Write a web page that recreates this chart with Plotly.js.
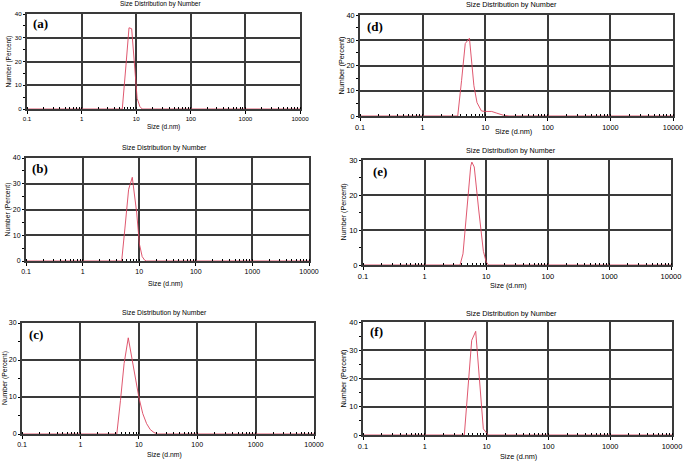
<!DOCTYPE html>
<html>
<head>
<meta charset="utf-8">
<script src="https://cdn.plot.ly/plotly-3.0.1.min.js"></script>
<style>html,body{margin:0;padding:0;background:#fff;}#chart{width:685px;height:463px;}</style>
</head>
<body>
<div id="chart"></div>
<script>
// ---- Data ----
const xTickVals = [0.1, 1, 10, 100, 1000, 10000];
const xTickText = ['0.1', '1', '10', '100', '1000', '10000'];
const panelLabels = ['(a)', '(b)', '(c)', '(d)', '(e)', '(f)'];
const chartTitle = 'Size Distribution by Number';
const xTitle = 'Size (d.nm)';
const yTitle = 'Number (Percent)';

const sizeA = [0.1, 5.56, 6.5, 7.38, 8.26, 10.4, 11.7, 12.9, 10000];
const numA  = [0,   0,    18.5, 34.2, 33.8, 4.5, 1.0,  0,    0];

const sizeB = [0.1, 4.9, 5.6, 6.5, 7.55, 9.0, 10.1, 11.3, 12.5, 13.5, 10000];
const numB  = [0,   0,   12.8, 27.8, 32.5, 19, 6.5, 1.7, 0.3, 0, 0];

const sizeC = [0.1, 4.2, 4.85, 5.6, 6.6, 7.53, 8.72, 10, 11.7, 13.6, 15.7, 18.2, 21, 10000];
const numC  = [0,   0,   9,    19,  26,  21,   14.7, 10, 5.5,  2.8,  1.2,  0.4,  0,  0];

const sizeD = [0.1, 3.64, 4.19, 4.8, 5.6, 6.6, 7.4, 8.7, 10, 12.7, 15, 19.5, 24, 10000];
const numD  = [0,   0,    14,   28.7, 30.8, 12, 5.3, 2.0, 1.8, 1.8, 1.2, 0.3, 0, 0];

const sizeE = [0.1, 3.76, 4.2, 4.85, 5.6, 5.85, 6.4, 7.53, 9.0, 10, 10.9, 10000];
const numE  = [0,   0,    3.2, 16,   28.2, 29.4, 28,  16,   3.9, 0.9, 0, 0];

const sizeF = [0.1, 4.36, 5.74, 6.66, 8.85, 10, 10.6, 10000];
const numF  = [0,   0,    33.5, 36.7, 2.2,  0.7, 0,   0];

const yMaxes = [40, 40, 30, 40, 30, 40];

// ---- Layout (pixel boxes of each panel) ----
const W = 685, H = 463;
const panels = [
  {x: sizeA, y: numA, box: [27, 14, 300, 109],  fs: 6.2, tfs: 6.5, title: [160, 4],  xt: [163, 127], yt: 8,   lab: [40, 24]},
  {x: sizeB, y: numB, box: [26, 158, 309, 261], fs: 7,   tfs: 6.8, title: [164, 148], xt: [165, 284], yt: 8,   lab: [40, 168]},
  {x: sizeC, y: numC, box: [22, 323, 314, 434], fs: 7,   tfs: 6.8, title: [164, 313], xt: [164, 455], yt: 4.5, lab: [36, 334]},
  {x: sizeD, y: numD, box: [360, 15, 673, 116], fs: 7.3, tfs: 7.3, title: [511, 4],  xt: [513, 131], yt: 341, lab: [375, 26]},
  {x: sizeE, y: numE, box: [363, 160, 671, 265],fs: 7.5, tfs: 7.2, title: [511, 150], xt: [508, 285], yt: 343, lab: [380, 171]},
  {x: sizeF, y: numF, box: [363, 322, 672, 435],fs: 7.4, tfs: 7.3, title: [512, 313], xt: [518, 456], yt: 343, lab: [376, 331]}
];

const FONT = 'Liberation Sans, Arial, sans-serif';
const gridColor = '#3a3a3a';
const traces = [];
const layout = {
  width: W, height: H,
  margin: {l: 0, r: 0, t: 0, b: 0},
  paper_bgcolor: '#fff', plot_bgcolor: '#fff',
  showlegend: false,
  font: {family: FONT, color: '#000'},
  annotations: []
};

panels.forEach((p, i) => {
  const n = i + 1;
  const sfx = (n === 1 ? '' : String(n));
  const [l, t, r, b] = p.box;
  traces.push({
    type: 'scatter', mode: 'lines',
    x: p.x, y: p.y,
    xaxis: 'x' + sfx, yaxis: 'y' + sfx,
    line: {color: 'rgba(220,70,95,0.9)', width: 1},
    hoverinfo: 'skip'
  });
  layout['xaxis' + sfx] = {
    type: 'log', range: [-1, 4],
    domain: [l / W, r / W],
    anchor: 'y' + sfx,
    tickmode: 'array', tickvals: xTickVals, ticktext: xTickText,
    ticks: 'outside', ticklen: 3, tickcolor: '#000', tickwidth: 1,
    tickfont: {size: p.fs, family: FONT, color: '#000'},
    showgrid: true, gridcolor: gridColor, gridwidth: 2,
    showline: true, linecolor: gridColor, linewidth: 2, mirror: true,
    zeroline: false,
    minor: {dtick: 'D1', ticks: 'inside', ticklen: 2, tickcolor: '#000', showgrid: false},
    fixedrange: true
  };
  layout['yaxis' + sfx] = {
    range: [0, yMaxes[i]],
    domain: [1 - b / H, 1 - t / H],
    anchor: 'x' + sfx,
    dtick: 10, tick0: 0,
    ticks: 'outside', ticklen: 2, tickcolor: '#000', tickwidth: 1,
    tickfont: {size: p.fs, family: FONT, color: '#000'},
    showgrid: true, gridcolor: gridColor, gridwidth: 2,
    showline: true, linecolor: gridColor, linewidth: 2, mirror: true,
    zeroline: false,
    minor: {dtick: 5, ticks: 'outside', ticklen: 2, tickcolor: '#000', showgrid: false},
    fixedrange: true
  };
  const ann = (text, px, py, size, extra) => Object.assign({
    text: text, xref: 'paper', yref: 'paper',
    x: px / W, y: 1 - py / H, xanchor: 'center', yanchor: 'middle',
    showarrow: false, font: {size: size, family: FONT, color: '#000'}
  }, extra || {});
  layout.annotations.push(ann(chartTitle, p.title[0], p.title[1], p.tfs));
  layout.annotations.push(ann(xTitle, p.xt[0], p.xt[1], p.tfs));
  layout.annotations.push(ann(yTitle, p.yt, (t + b) / 2, p.tfs, {textangle: -90}));
  layout.annotations.push(ann('<b>' + panelLabels[i] + '</b>', p.lab[0], p.lab[1], 13,
    {font: {size: 13, family: 'Liberation Serif, Times New Roman, serif', color: '#000'}}));
});

Plotly.newPlot('chart', traces, layout, {staticPlot: true, displayModeBar: false});
</script>
</body>
</html>
